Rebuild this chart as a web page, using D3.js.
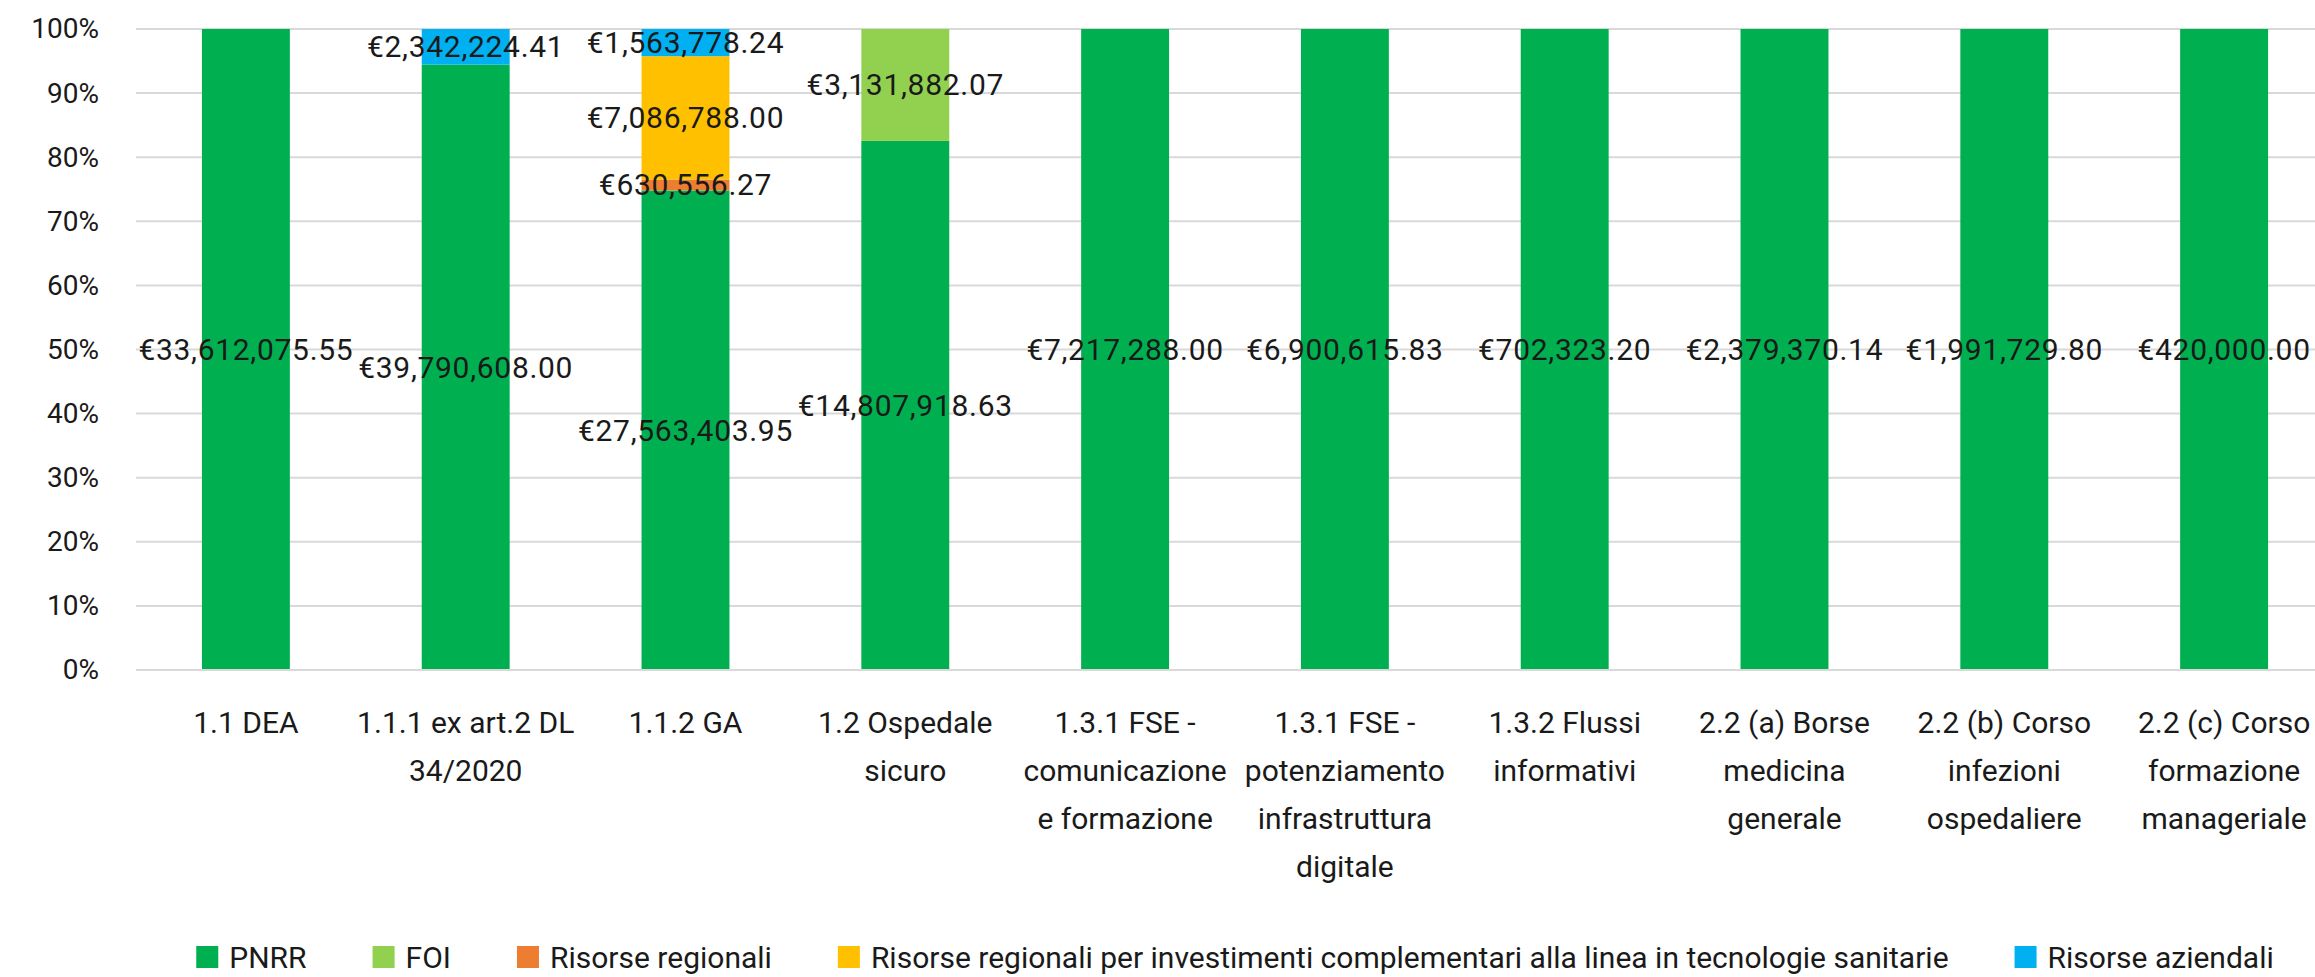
<!DOCTYPE html>
<html>
<head>
<meta charset="utf-8">
<script src="https://cdn.jsdelivr.net/npm/d3@7"></script>
<style>
    body { margin: 0; background: #fff; }
    text { font-family: Roboto, "Noto Sans", sans-serif; fill: #1a1a1a; }
</style>
</head>
<body>
<div id="chart"></div>
<script>
// categories (line breaks as they wrap under the axis)
const categories = [
    "1.1 DEA",
    "1.1.1 ex art.2 DL\n34/2020",
    "1.1.2 GA",
    "1.2 Ospedale\nsicuro",
    "1.3.1 FSE -\ncomunicazione\ne formazione",
    "1.3.1 FSE -\npotenziamento\ninfrastruttura\ndigitale",
    "1.3.2 Flussi\ninformativi",
    "2.2 (a) Borse\nmedicina\ngenerale",
    "2.2 (b) Corso\ninfezioni\nospedaliere",
    "2.2 (c) Corso\nformazione\nmanageriale"
];

const seriesNames = ["PNRR", "FOI", "Risorse regionali",
    "Risorse regionali per investimenti complementari alla linea in tecnologie sanitarie",
    "Risorse aziendali"];

// euro amounts per category, one array per series
const pnrr = [33612075.55, 39790608.00, 27563403.95, 14807918.63, 7217288.00,
    6900615.83, 702323.20, 2379370.14, 1991729.80, 420000.00];
const foi = [0, 0, 0, 3131882.07, 0, 0, 0, 0, 0, 0];
const risorseRegionali = [0, 0, 630556.27, 0, 0, 0, 0, 0, 0, 0];
const risorseInvestimenti = [0, 0, 7086788.00, 0, 0, 0, 0, 0, 0, 0];
const risorseAziendali = [0, 2342224.41, 1563778.24, 0, 0, 0, 0, 0, 0, 0];

const yTicks = [0, 0.1, 0.2, 0.3, 0.4, 0.5, 0.6, 0.7, 0.8, 0.9, 1];

const colors = ["#00b050", "#92d050", "#ed7d31", "#ffc000", "#00b0f0"];

const W = 2315, H = 977;
const margin = {top: 29, left: 136, bottom: 307};
const plotRight = 2334; // plot area runs slightly past the picture edge

const seriesValues = [pnrr, foi, risorseRegionali, risorseInvestimenti, risorseAziendali];
const table = categories.map((c, i) => {
    let row = {cat: c};
    seriesNames.forEach((s, j) => row[s] = seriesValues[j][i]);
    return row;
});

const svg = d3.select("#chart").append("svg")
    .attr("width", W)
    .attr("height", H);

const x = d3.scaleBand()
    .domain(categories)
    .range([margin.left, plotRight])
    .paddingInner(0.6)
    .paddingOuter(0.3);

const y = d3.scaleLinear()
    .domain([0, 1])
    .range([H - margin.bottom, margin.top]);

const color = d3.scaleOrdinal().domain(seriesNames).range(colors);

// gridlines
svg.append("g")
    .selectAll("line")
    .data(yTicks)
    .join("line")
    .attr("x1", margin.left)
    .attr("x2", plotRight)
    .attr("y1", d => y(d))
    .attr("y2", d => y(d))
    .attr("stroke", "#d9d9d9")
    .attr("stroke-width", 2);

// y axis labels
const yAxis = svg.append("g")
    .attr("transform", "translate(99,0)")
    .call(d3.axisLeft(y).tickValues(yTicks).tickFormat(d3.format(".0%")).tickSize(0).tickPadding(0));
yAxis.select(".domain").remove();
yAxis.selectAll("text")
    .attr("font-size", 28)
    .attr("fill", "#1a1a1a")
    .attr("font-family", "Roboto, 'Noto Sans', sans-serif");

// stacked bars (100%)
const stacked = d3.stack()
    .keys(seriesNames)
    .offset(d3.stackOffsetExpand)(table);

const groups = svg.append("g")
    .selectAll("g")
    .data(stacked)
    .join("g")
    .attr("fill", d => color(d.key));

groups.selectAll("rect")
    .data(d => d.map(p => ({key: d.key, p: p})))
    .join("rect")
    .attr("x", d => x(d.p.data.cat))
    .attr("width", x.bandwidth())
    .attr("y", d => y(d.p[1]))
    .attr("height", d => y(d.p[0]) - y(d.p[1]));

// zero line on top of bars
svg.append("line")
    .attr("x1", margin.left)
    .attr("x2", plotRight)
    .attr("y1", y(0))
    .attr("y2", y(0))
    .attr("stroke", "#d9d9d9")
    .attr("stroke-width", 2);

// data labels
const fmt = v => "€" + d3.format(",.2f")(v);
const labels = [];
stacked.forEach(s => s.forEach(p => {
    let v = p.data[s.key];
    if (v > 0) labels.push({cat: p.data.cat, v: v, mid: (p[0] + p[1]) / 2});
}));

svg.append("g")
    .selectAll("text")
    .data(labels)
    .join("text")
    .attr("x", d => x(d.cat) + x.bandwidth() / 2)
    .attr("y", d => y(d.mid))
    .attr("text-anchor", "middle")
    .attr("dominant-baseline", "central")
    .attr("font-size", 30)
    .attr("letter-spacing", 0.7)
    .text(d => fmt(d.v));

// category labels
const xLab = svg.append("g")
    .selectAll("text")
    .data(categories)
    .join("text")
    .attr("text-anchor", "middle")
    .attr("font-size", 30)
    .attr("transform", d => "translate(" + (x(d) + x.bandwidth() / 2) + ",733)");

xLab.selectAll("tspan")
    .data(d => d.split("\n"))
    .join("tspan")
    .attr("x", 0)
    .attr("y", (d, i) => i * 48)
    .text(d => d);

// legend
const legend = svg.append("g");
const items = legend.selectAll("g")
    .data(seriesNames)
    .join("g");

items.append("rect")
    .attr("width", 22)
    .attr("height", 22)
    .attr("y", -11)
    .attr("fill", d => color(d));

items.append("text")
    .attr("x", 33)
    .attr("dominant-baseline", "central")
    .attr("font-size", 30)
    .text(d => d);

let pos = 0;
items.each(function() {
    d3.select(this).attr("transform", "translate(" + pos + ",0)");
    pos += 33 + d3.select(this).select("text").node().getComputedTextLength() + 66;
});
let total = pos - 66;
legend.attr("transform", "translate(" + ((margin.left + plotRight) / 2 - total / 2) + ",957)");
</script>
</body>
</html>
